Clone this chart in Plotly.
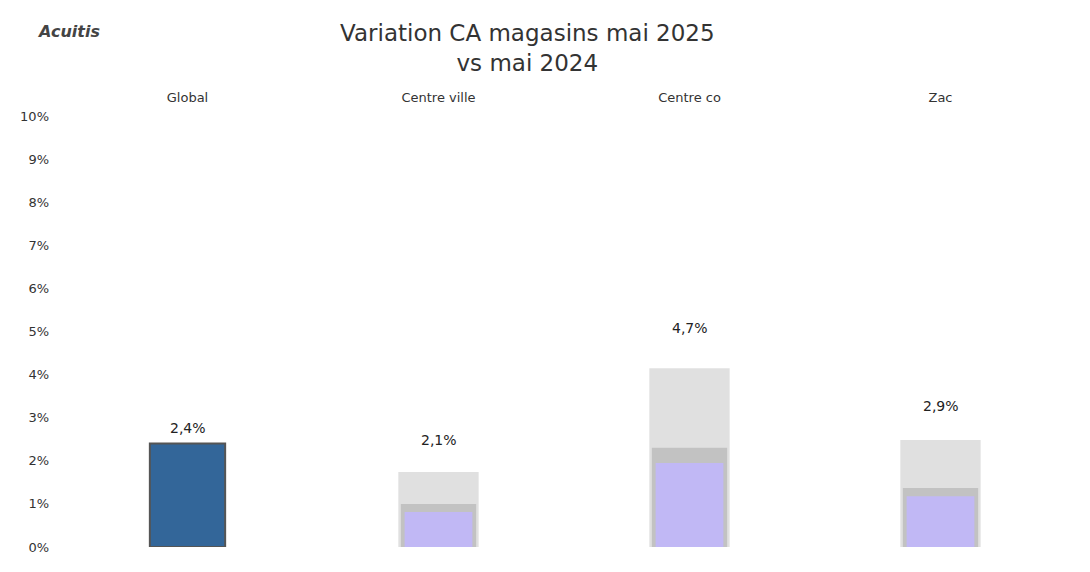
import plotly.graph_objects as go

categories = ["Global", "Centre ville", "Centre co", "Zac"]
variation = [2.4, 2.1, 4.7, 2.9]
variation_labels = ["2,4%", "2,1%", "4,7%", "2,9%"]
light_grey_part = [None, 1.74, 4.15, 2.48]
mid_grey_part = [None, 1.0, 2.3, 1.37]
lavender_part = [None, 0.81, 1.95, 1.18]
global_part = [2.4, None, None, None]
ytick_vals = list(range(0, 11))
ytick_text = [f"{v}%" for v in ytick_vals]

FONT = "DejaVu Sans"

fig = go.Figure()
fig.add_bar(x=categories, y=light_grey_part, marker=dict(color="#e0e0e0", line=dict(width=0)),
            width=0.32, hoverinfo="skip", showlegend=False)
fig.add_bar(x=categories, y=mid_grey_part, marker=dict(color="#c2c2c2", line=dict(width=0)),
            width=0.30, hoverinfo="skip", showlegend=False)
fig.add_bar(x=categories, y=lavender_part, marker=dict(color="#c1b8f5", line=dict(width=0)),
            width=0.27, hoverinfo="skip", showlegend=False)
fig.add_bar(x=categories, y=global_part, marker=dict(color="#336699", line=dict(color="#555555", width=2)),
            width=0.30, hoverinfo="skip", showlegend=False)

value_annotations = [
    dict(x=c, y=v, text=t, xref="x", yref="y", showarrow=False, yshift=16,
         yanchor="middle", font=dict(size=14, color="#222222", family=FONT))
    for c, v, t in zip(categories, variation, variation_labels)
]

fig.update_layout(
    width=1090, height=572,
    barmode="overlay",
    plot_bgcolor="white", paper_bgcolor="white",
    margin=dict(l=54, r=32, t=108, b=33),
    xaxis=dict(side="top", showline=False, showgrid=False, ticks="", ticklabelstandoff=10,
               tickfont=dict(size=13, color="#333333", family=FONT)),
    yaxis=dict(range=[0, 10], tickvals=ytick_vals, ticktext=ytick_text, showgrid=False,
               zeroline=False, showline=False, ticks="", ticklabelstandoff=12,
               tickfont=dict(size=13, color="#333333", family=FONT)),
    annotations=value_annotations + [
        dict(text="Variation CA magasins mai 2025<br>vs mai 2024", xref="paper", yref="paper",
             x=0.464, y=1.158, xanchor="center", yanchor="middle", showarrow=False,
             font=dict(size=23, color="#333333", family=FONT)),
        dict(text="<b><i>Acuitis</i></b>", xref="paper", yref="paper", x=-0.027, y=1.197,
             xanchor="left", yanchor="middle", showarrow=False,
             font=dict(size=16, color="#444444", family=FONT)),
    ],
)

fig.write_html("out.html")
